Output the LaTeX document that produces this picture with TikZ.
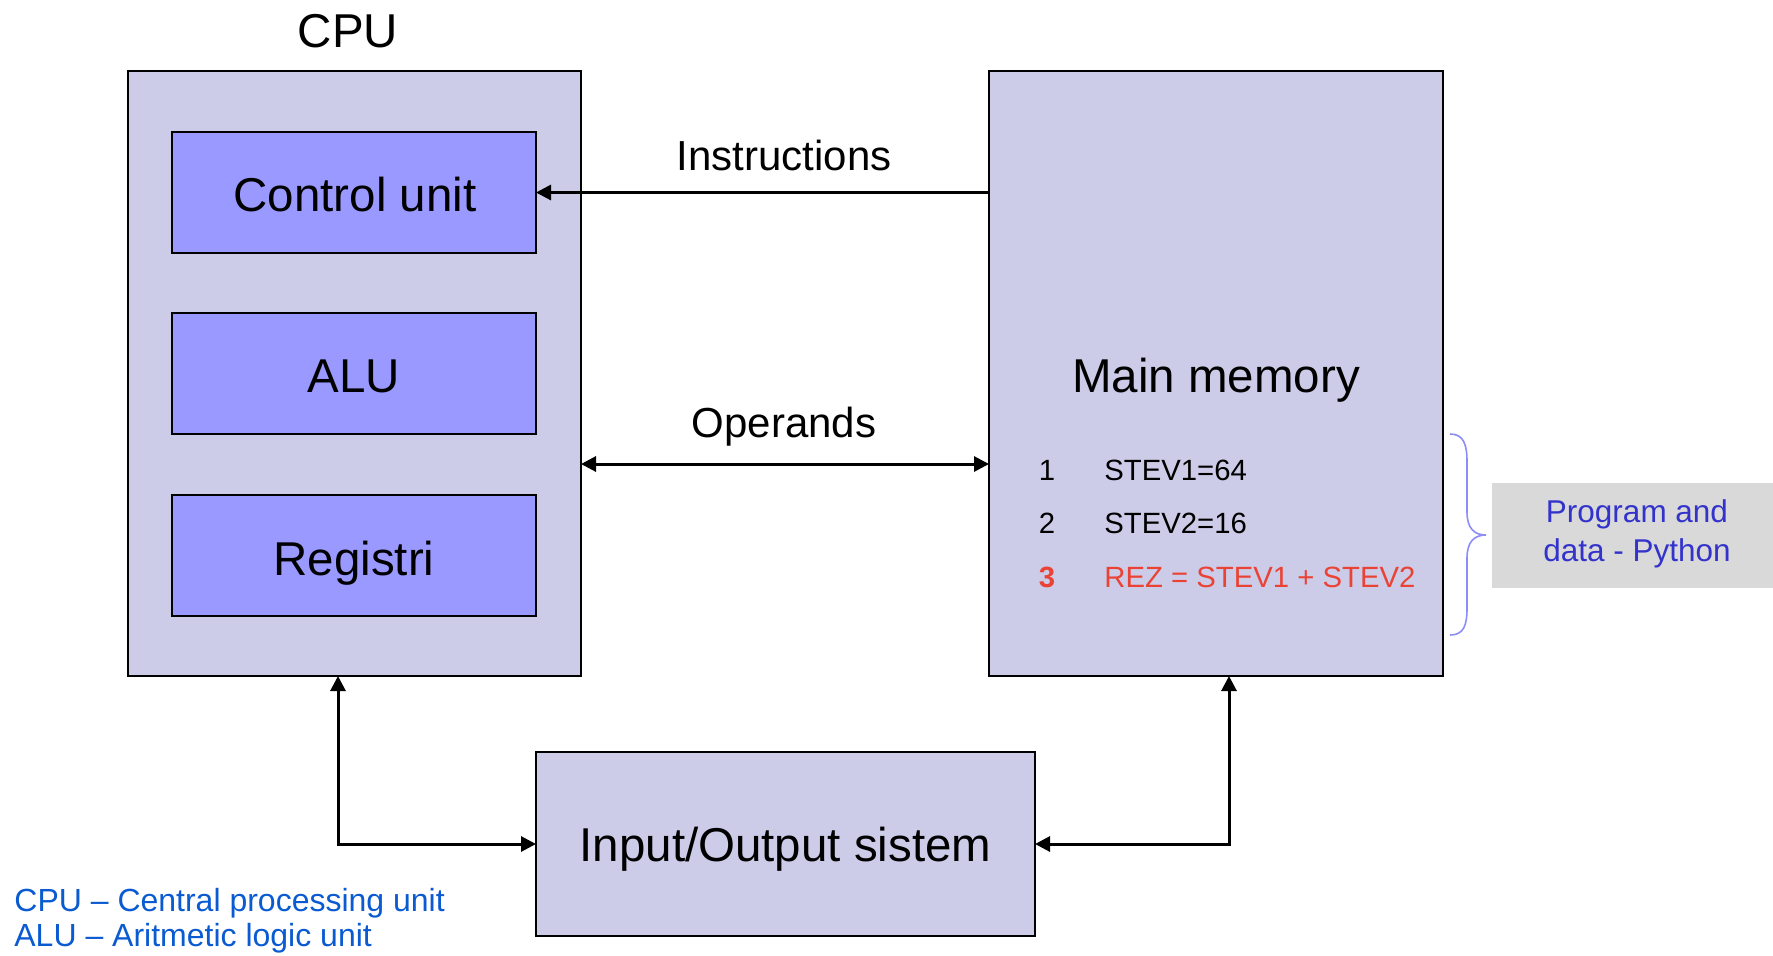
\documentclass[tikz,border=0pt]{standalone}
\usepackage{fontspec}
\setmainfont{Liberation Sans}
\usetikzlibrary{arrows.meta,calc}
\definecolor{panel}{RGB}{204,204,232}
\definecolor{unitfill}{RGB}{153,153,255}
\definecolor{notegray}{RGB}{217,217,217}
\definecolor{progblue}{RGB}{51,51,204}
\definecolor{abbrblue}{RGB}{10,90,210}
\definecolor{hilite}{RGB}{234,67,53}
\definecolor{bracecol}{RGB}{140,140,250}
\tikzset{
  block/.style={draw=black, line width=1pt, fill=panel, inner sep=0pt, outer sep=0pt},
  unitbox/.style={block, fill=unitfill, minimum width=182pt, minimum height=60.5pt},
  bigtext/.style={inner sep=0pt, anchor=base, font=\fontsize{23.75pt}{28pt}\selectfont},
  flowlabel/.style={inner sep=0pt, anchor=base, font=\fontsize{21pt}{25pt}\selectfont},
  codetext/.style={inner sep=0pt, anchor=base, font=\fontsize{14.65pt}{18pt}\selectfont},
  codeline/.style={codetext, anchor=base west},
  abbr/.style={inner sep=0pt, anchor=base west, text=abbrblue, font=\fontsize{16pt}{18.5pt}\selectfont},
  tip/.tip={Triangle[length=7.5pt,width=7.5pt]},
  conn/.style={line width=1.5pt, -tip},
  dconn/.style={line width=1.5pt, tip-tip},
}
\begin{document}
\begin{tikzpicture}[x=0.5pt,y=-0.5pt]
\useasboundingbox (0,0) rectangle (1773,955);

% CPU with its three parts
\node[bigtext] (cputitle) at (348,47) {CPU};
\node[block, minimum width=226.5pt, minimum height=302.5pt] (cpu) at (354.5,373.5) {};
\node[unitbox] (cu)  at (354,192.5) {};
\node[unitbox] (alu) at (354,373.5) {};
\node[unitbox] (reg) at (354,555.5) {};
\node[bigtext] (cutext)  at (355,211) {Control unit};
\node[bigtext] (alutext) at (354,392.5) {ALU};
\node[bigtext] (regtext) at (354,575) {Registri};

% main memory with a small program
\node[block, minimum width=227pt, minimum height=302.5pt] (mem) at (1216,373.5) {};
\node[bigtext] (memlabel) at (1216,392.5) {Main memory};
\node[codetext] (n1) at (1047,480) {1};
\node[codeline] (l1) at (1104,480) {STEV1=64};
\node[codetext] (n2) at (1047,533) {2};
\node[codeline] (l2) at (1104,533) {STEV2=16};
\node[codetext, text=hilite, font=\fontsize{14.65pt}{18pt}\selectfont\bfseries] (n3) at (1047,587) {3};
\node[codeline, text=hilite] (l3) at (1104,587) {REZ = STEV1 + STEV2};

% input/output system
\node[block, minimum width=249.5pt, minimum height=92pt] (io) at (785.5,844) {};
\node[bigtext] (iolabel) at (785.5,861.5) {Input/Output sistem};

% buses between the units
\node[flowlabel] (instr) at (784,170) {Instructions};
\node[flowlabel] (opnd) at (784,437) {Operands};
\draw[conn] (mem.west |- cu.east) -- (cu.east);
\coordinate (cpuop) at (cpu.east |- 0,464);
\draw[dconn] (cpuop) -- (cpuop -| mem.west);
\coordinate (cpuio) at ($(cpu.south)+(-16.5,0)$);
\coordinate (memio) at ($(mem.south)+(13,0)$);
\draw[dconn] (cpuio) |- (io.west);
\draw[dconn] (memio) |- (io.east);

% brace and note on the program
\draw[bracecol, line width=0.8pt]
  (1450,434) .. controls (1464,434) and (1467,445) .. (1467,462)
  -- (1467,512) .. controls (1467,528) and (1474,535) .. (1486,535)
  .. controls (1474,535) and (1467,542) .. (1467,558)
  -- (1467,608) .. controls (1467,625) and (1464,635) .. (1450,635);
\node[fill=notegray, inner sep=0pt, minimum width=140.5pt, minimum height=52.5pt] (note) at (1632.5,535) {};
\node[inner sep=0pt, anchor=base, text=progblue, font=\fontsize{15.75pt}{18.5pt}\selectfont] (note1) at (1637,522.5) {Program and};
\node[inner sep=0pt, anchor=base, text=progblue, font=\fontsize{15.75pt}{18.5pt}\selectfont] (note2) at (1637,561.5) {data - Python};

% abbreviations
\node[abbr] (ab1) at (14,911.5) {CPU – Central processing unit};
\node[abbr] (ab2) at (14,946.5) {ALU – Aritmetic logic unit};
\end{tikzpicture}
\end{document}
